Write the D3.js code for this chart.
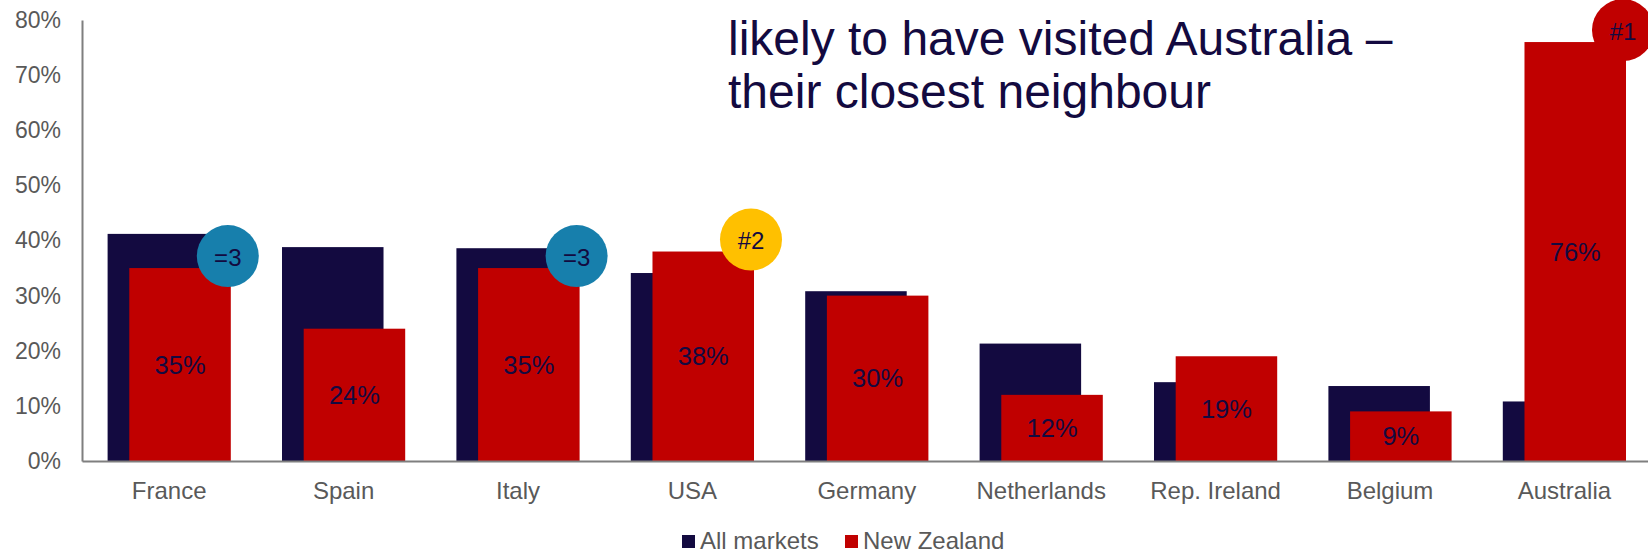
<!DOCTYPE html>
<html>
<head>
<meta charset="utf-8">
<script src="https://cdn.jsdelivr.net/npm/d3@7"></script>
<style>
  html, body { margin: 0; padding: 0; background: #fff; }
  svg { display: block; font-family: "Liberation Sans", Arial, sans-serif; }
</style>
</head>
<body>
<svg id="chart" width="1648" height="552"></svg>
<script>
// Share of visitors who have been to each destination
const categories = ["France", "Spain", "Italy", "USA", "Germany", "Netherlands", "Rep. Ireland", "Belgium", "Australia"];
const allMarkets = [0.412, 0.388, 0.386, 0.341, 0.308, 0.213, 0.143, 0.136, 0.108];
const newZealand = [0.35, 0.24, 0.35, 0.38, 0.30, 0.12, 0.19, 0.09, 0.76];
const yTicks = [0, 0.1, 0.2, 0.3, 0.4, 0.5, 0.6, 0.7, 0.8];
const seriesNames = ["All markets", "New Zealand"];

// Ranking badges shown on the New Zealand bars
const badgeCategories = ["France", "Italy", "USA", "Australia"];
const badgeLabels = ["=3", "=3", "#2", "#1"];
const badgeKinds = ["third", "third", "second", "first"];

const titleLines = ["likely to have visited Australia \u2013", "their closest neighbour"];

const NAVY = "#130a40";
const RED = "#c00000";
const GREY = "#595959";
const badgeFill = { first: "#c00000", second: "#ffc000", third: "#177fac" };

const svg = d3.select("#chart");

const x = d3.scaleBand()
  .domain(categories)
  .range([82, 1651.6])
  .paddingInner(0.2936)
  .paddingOuter(0.1468);

const y = d3.scaleLinear().domain([0, 0.8]).range([461, 20]);

const bw = x.bandwidth();
const barW = bw * 0.824;

// All markets bars (behind)
svg.append("g").selectAll("rect")
  .data(categories)
  .join("rect")
  .attr("x", d => x(d))
  .attr("y", (d, i) => y(allMarkets[i]))
  .attr("width", barW)
  .attr("height", (d, i) => y(0) - y(allMarkets[i]))
  .attr("fill", NAVY);

// New Zealand bars (front, shifted right)
svg.append("g").selectAll("rect")
  .data(categories)
  .join("rect")
  .attr("x", d => x(d) + bw - barW)
  .attr("y", (d, i) => y(newZealand[i]))
  .attr("width", barW)
  .attr("height", (d, i) => y(0) - y(newZealand[i]))
  .attr("fill", RED);

// Value labels centred in the New Zealand bars
svg.append("g").selectAll("text")
  .data(categories)
  .join("text")
  .attr("x", d => x(d) + bw - barW / 2)
  .attr("y", (d, i) => (y(newZealand[i]) + y(0)) / 2)
  .attr("text-anchor", "middle")
  .attr("dominant-baseline", "central")
  .attr("font-size", 25.5)
  .attr("fill", NAVY)
  .text((d, i) => d3.format(".0%")(newZealand[i]));

// Axes
const yAxis = d3.axisLeft(y)
  .tickValues(yTicks)
  .tickFormat(d3.format(".0%"))
  .tickSize(0)
  .tickSizeOuter(0)
  .tickPadding(21);

const gy = svg.append("g").attr("transform", "translate(82,0)").call(yAxis);
gy.select(".domain").attr("stroke", "#7f7f7f").attr("stroke-width", 2);
gy.selectAll(".tick text")
  .attr("font-size", 23)
  .attr("font-family", "'Liberation Sans', Arial, sans-serif")
  .attr("fill", GREY);

const xAxis = d3.axisBottom(x).tickSize(0).tickSizeOuter(0).tickPadding(21);
const gx = svg.append("g").attr("transform", "translate(0,461)").call(xAxis);
gx.select(".domain").attr("stroke", "#7f7f7f").attr("stroke-width", 2);
gx.selectAll(".tick text")
  .attr("font-size", 24)
  .attr("font-family", "'Liberation Sans', Arial, sans-serif")
  .attr("fill", GREY);

// Ranking badges
const badges = svg.append("g").selectAll("g")
  .data(badgeCategories)
  .join("g")
  .attr("transform", (d, i) => {
    const k = categories.indexOf(d);
    const cx = x(d) + bw - 3;
    const cy = y(newZealand[k]) - 12;
    return `translate(${cx},${cy})`;
  });
badges.append("circle")
  .attr("r", 31)
  .attr("fill", (d, i) => badgeFill[badgeKinds[i]]);
badges.append("text")
  .attr("text-anchor", "middle")
  .attr("dominant-baseline", "central")
  .attr("y", 1)
  .attr("font-size", 24)
  .attr("fill", NAVY)
  .text((d, i) => badgeLabels[i]);

// Headline text
svg.append("g").selectAll("text")
  .data(titleLines)
  .join("text")
  .attr("x", 728)
  .attr("y", (d, i) => 55 + i * 53)
  .attr("font-size", 48)
  .attr("fill", NAVY)
  .text(d => d);

// Legend
const legendColors = [NAVY, RED];
const legendX = [682, 845];
const legend = svg.append("g").selectAll("g")
  .data(seriesNames)
  .join("g")
  .attr("transform", (d, i) => `translate(${legendX[i]},535)`);
legend.append("rect")
  .attr("width", 13).attr("height", 13)
  .attr("fill", (d, i) => legendColors[i]);
legend.append("text")
  .attr("x", 18)
  .attr("y", 13.5)
  .attr("font-size", 24)
  .attr("fill", GREY)
  .text(d => d);
</script>
</body>
</html>
